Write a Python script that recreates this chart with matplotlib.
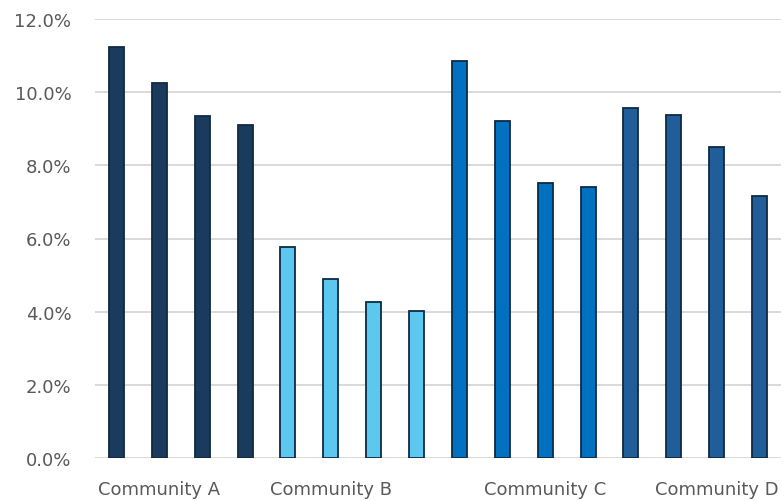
import matplotlib
matplotlib.use("Agg")
import matplotlib.pyplot as plt
from matplotlib.ticker import FuncFormatter

# Rates per community, four periods each
communities = ["Community A", "Community B", "Community C", "Community D"]
community_a = [11.24, 10.25, 9.34, 9.10]
community_b = [5.77, 4.89, 4.27, 4.01]
community_c = [10.85, 9.20, 7.52, 7.40]
community_d = [9.56, 9.37, 8.51, 7.17]
colors = ["#1A3A5E", "#5CC8F0", "#0070C0", "#215D99"]
label_slots = [1, 5, 10, 14]

series = [community_a, community_b, community_c, community_d]
values = [v for s in series for v in s]
bar_colors = [c for c, s in zip(colors, series) for _ in s]
x = list(range(len(values)))

tick_labels = [""] * len(values)
for name, slot in zip(communities, label_slots):
    tick_labels[slot] = name

fig = plt.figure(figsize=(7.84, 5.02), dpi=100)
ax = fig.add_axes([95 / 784, 43 / 502, 686 / 784, 439 / 502])

ax.bar(x, values, width=0.35, color=bar_colors, edgecolor="#0E2A44",
       linewidth=1.3, zorder=3)

ax.set_xlim(-0.5, len(values) - 0.5)
ax.set_ylim(0, 12)
ax.set_yticks(range(0, 13, 2))
ax.yaxis.set_major_formatter(FuncFormatter(lambda v, p: f"{v:.1f}%"))
ax.set_xticks(x)
ax.set_xticklabels(tick_labels)

ax.grid(axis="y", color="#D9D9D9", linewidth=1.4, zorder=0)
ax.set_axisbelow(True)
for sp in ax.spines.values():
    sp.set_visible(False)
ax.tick_params(axis="both", length=0, colors="#595959", labelsize=13)
ax.tick_params(axis="y", pad=17)
ax.tick_params(axis="x", pad=16)

fig.savefig("out.png", dpi=100)
